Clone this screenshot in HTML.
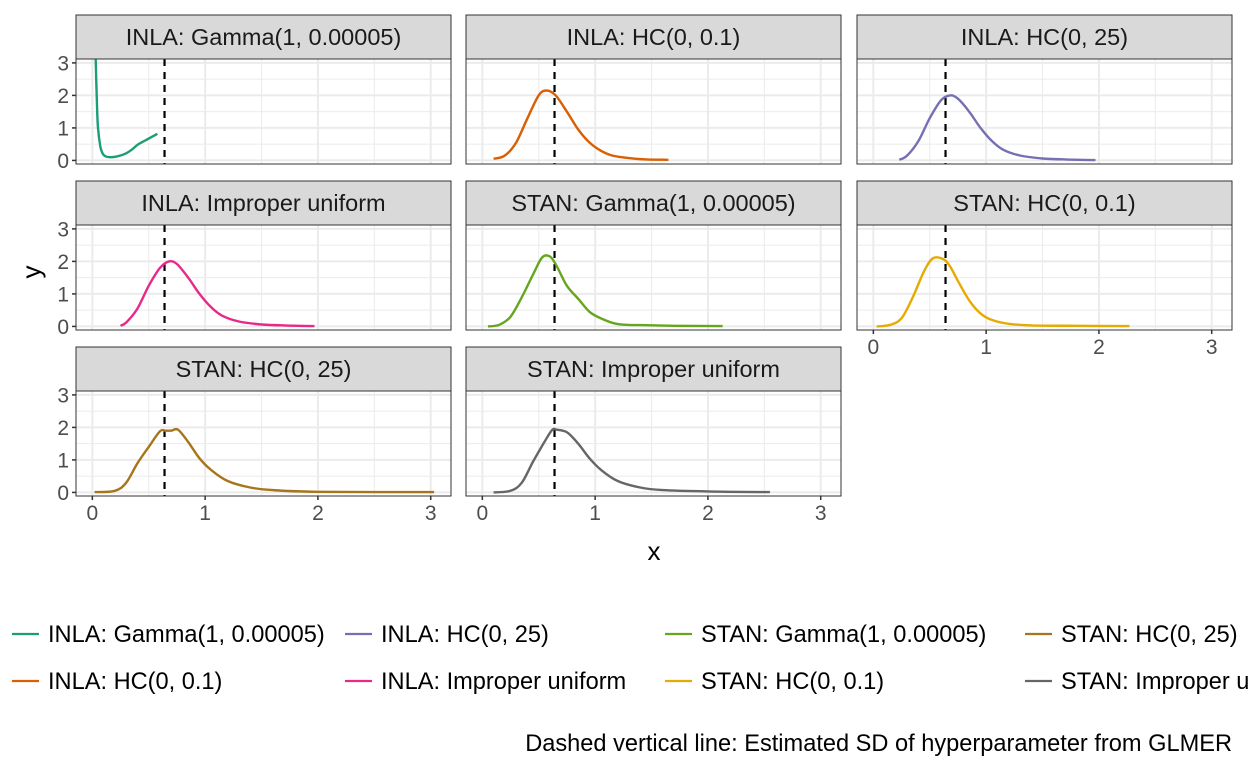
<!DOCTYPE html>
<html><head><meta charset="utf-8"><style>
body{margin:0;background:#fff;}
svg text{font-family:"Liberation Sans",Arial,sans-serif;}
</style></head><body>
<svg id="c" width="1248" height="768" xmlns="http://www.w3.org/2000/svg"></svg>
<script>
const panelTitles=["INLA: Gamma(1, 0.00005)","INLA: HC(0, 0.1)","INLA: HC(0, 25)","INLA: Improper uniform","STAN: Gamma(1, 0.00005)","STAN: HC(0, 0.1)","STAN: HC(0, 25)","STAN: Improper uniform"];
const colors=["#1B9E77","#D95F02","#7570B3","#E7298A","#66A61E","#E6AB02","#A6761D","#666666"];
const xTicks=[0,1,2,3];
const yTicks=[0,1,2,3];
const glmerSD=0.64;
const s0x=[0.02,0.025,0.03,0.04,0.05,0.07,0.09,0.12,0.16,0.2,0.25,0.3,0.35,0.4,0.45,0.5,0.577];
const s0y=[6,4,3.1,1.8,1.0,0.45,0.22,0.12,0.1,0.11,0.15,0.22,0.33,0.48,0.58,0.67,0.82];
const s1x=[0.1,0.2,0.3,0.4,0.5,0.57,0.65,0.75,0.85,0.95,1.05,1.15,1.3,1.45,1.65];
const s1y=[0.05,0.15,0.55,1.3,2.0,2.15,2.0,1.5,0.95,0.55,0.3,0.15,0.07,0.03,0.02];
const s2x=[0.23,0.3,0.4,0.5,0.6,0.68,0.75,0.85,0.95,1.05,1.15,1.3,1.5,1.7,1.97];
const s2y=[0.02,0.15,0.6,1.3,1.85,2.0,1.9,1.5,1.0,0.6,0.33,0.15,0.06,0.03,0.01];
const s3x=[0.25,0.3,0.4,0.5,0.6,0.68,0.75,0.85,0.95,1.05,1.15,1.3,1.5,1.7,1.97];
const s3y=[0.02,0.12,0.55,1.25,1.8,2.0,1.92,1.5,1.0,0.6,0.33,0.15,0.06,0.03,0.01];
const s4x=[0.05,0.15,0.25,0.35,0.45,0.53,0.6,0.66,0.75,0.85,0.95,1.05,1.2,1.4,1.7,2.13];
const s4y=[0.0,0.05,0.3,0.9,1.6,2.12,2.15,1.85,1.25,0.85,0.45,0.25,0.07,0.04,0.02,0.01];
const s5x=[0.03,0.15,0.25,0.35,0.45,0.53,0.62,0.68,0.75,0.85,0.95,1.05,1.2,1.4,1.8,2.27];
const s5y=[0.0,0.05,0.25,0.9,1.7,2.1,2.07,1.85,1.4,0.8,0.4,0.2,0.08,0.03,0.02,0.01];
const s6x=[0.02,0.2,0.3,0.4,0.5,0.6,0.65,0.7,0.76,0.85,0.95,1.05,1.2,1.4,1.6,2.0,3.03];
const s6y=[0.01,0.05,0.3,0.9,1.4,1.88,1.9,1.9,1.93,1.55,1.05,0.7,0.35,0.15,0.07,0.02,0.01];
const s7x=[0.1,0.25,0.35,0.45,0.55,0.62,0.66,0.75,0.85,0.95,1.05,1.2,1.4,1.6,2.0,2.55];
const s7y=[0.0,0.05,0.3,0.95,1.55,1.93,1.93,1.85,1.5,1.05,0.7,0.35,0.15,0.07,0.03,0.01];
const seriesX=[s0x,s1x,s2x,s3x,s4x,s5x,s6x,s7x];
const seriesY=[s0y,s1y,s2y,s3y,s4y,s5y,s6y,s7y];

const svg=document.getElementById('c');
const NS="http://www.w3.org/2000/svg";
function mk(t,a,p){const e=document.createElementNS(NS,t);for(const k in a)e.setAttribute(k,a[k]);(p||svg).appendChild(e);return e;}
const colL=[76,466,857], PW=375, rowT=[15,181,347], SH=44, PH=105;
const X0=-0.145, X1=3.18, Y0=-0.11, Y1=3.12;
const defs=mk('defs',{});
function smooth(P){
  let d='M'+P[0][0].toFixed(1)+','+P[0][1].toFixed(1);
  for(let k=0;k<P.length-1;k++){
    const p0=P[Math.max(k-1,0)],p1=P[k],p2=P[k+1],p3=P[Math.min(k+2,P.length-1)];
    const c1=[p1[0]+(p2[0]-p0[0])/6,p1[1]+(p2[1]-p0[1])/6];
    const c2=[p2[0]-(p3[0]-p1[0])/6,p2[1]-(p3[1]-p1[1])/6];
    d+='C'+c1[0].toFixed(1)+','+c1[1].toFixed(1)+' '+c2[0].toFixed(1)+','+c2[1].toFixed(1)+' '+p2[0].toFixed(1)+','+p2[1].toFixed(1);
  }
  return d;
}
for(let i=0;i<8;i++){
  const c=i%3, r=Math.floor(i/3);
  const L=colL[c], T=rowT[r]+SH;
  const sx=v=>L+(v-X0)/(X1-X0)*PW;
  const sy=v=>T+PH-(v-Y0)/(Y1-Y0)*PH;
  const g=mk('g',{});
  
  
  const cp=mk('clipPath',{id:'cp'+i},defs);
  mk('rect',{x:L,y:T,width:PW,height:PH},cp);
  const st=mk('rect',{x:L,y:rowT[r],width:PW,height:SH,fill:'#D9D9D9',stroke:'#333',"stroke-width":1},g);
  
  
  const tt=mk('text',{x:L+PW/2,y:rowT[r]+30,"text-anchor":"middle","font-size":"23.5","fill":"#1a1a1a"},g);
  tt.textContent=panelTitles[i];
  
  
  for(let v=0;v<=3;v+=0.5){mk('line',{x1:L,x2:L+PW,y1:sy(v),y2:sy(v),stroke:'#EBEBEB',"stroke-width":v%1?1:2},g);
    mk('line',{y1:T,y2:T+PH,x1:sx(v),x2:sx(v),stroke:'#EBEBEB',"stroke-width":v%1?1:2},g);}
  const vl=mk('line',{x1:sx(glmerSD),x2:sx(glmerSD),y1:T,y2:T+PH,stroke:'#000',"stroke-width":2.2,"stroke-dasharray":"7,6"},g);
  
  
  const xs=seriesX[i], ys=seriesY[i];
  const P=xs.map((x,k)=>[sx(x),sy(ys[k])]);
  const pth=mk('path',{d:smooth(P),fill:'none',stroke:colors[i],"stroke-width":2.4,"stroke-linejoin":"round","clip-path":"url(#cp"+i+")"},g);
  
  
  mk('rect',{x:L,y:T,width:PW,height:PH,fill:'none',stroke:'#333',"stroke-width":1},g);
  if(c===0){
    yTicks.forEach(v=>{mk('line',{x1:L-4,x2:L,y1:sy(v),y2:sy(v),stroke:'#333',"stroke-width":1.5},g);
      const t=mk('text',{x:L-7,y:sy(v)+7.5,"text-anchor":"end","font-size":"21",fill:"#4D4D4D"},g);t.textContent=v;
      
      });
  }
  if(r===2 || i===5){
    xTicks.forEach(v=>{mk('line',{x1:sx(v),x2:sx(v),y1:T+PH,y2:T+PH+4,stroke:'#333',"stroke-width":1.5},g);
      const t=mk('text',{x:sx(v),y:T+PH+24,"text-anchor":"middle","font-size":"21",fill:"#4D4D4D"},g);t.textContent=v;
      
      });
  }
}
const yt=mk('text',{x:40,y:272,"text-anchor":"middle","font-size":"26",fill:"#000",transform:"rotate(-90 40 272)"});
yt.textContent='y';


const xt=mk('text',{x:654,y:560,"text-anchor":"middle","font-size":"26",fill:"#000"});
xt.textContent='x';


const legX=[12,345,665,1025], legY=[634,681];
for(let i=0;i<8;i++){
  const c=Math.floor(i/2), r=i%2;
  const g=mk('g',{});
  
  
  mk('line',{x1:legX[c],x2:legX[c]+27,y1:legY[r],y2:legY[r],stroke:colors[i],"stroke-width":2.2},g);
  const t=mk('text',{x:legX[c]+36,y:legY[r]+8,"font-size":"23.6",fill:"#000"},g);
  t.textContent=panelTitles[i];
}
const cap=mk('text',{x:1232,y:751,"text-anchor":"end","font-size":"23.6",fill:"#000"});
cap.textContent='Dashed vertical line: Estimated SD of hyperparameter from GLMER';


</script>
</body></html>
